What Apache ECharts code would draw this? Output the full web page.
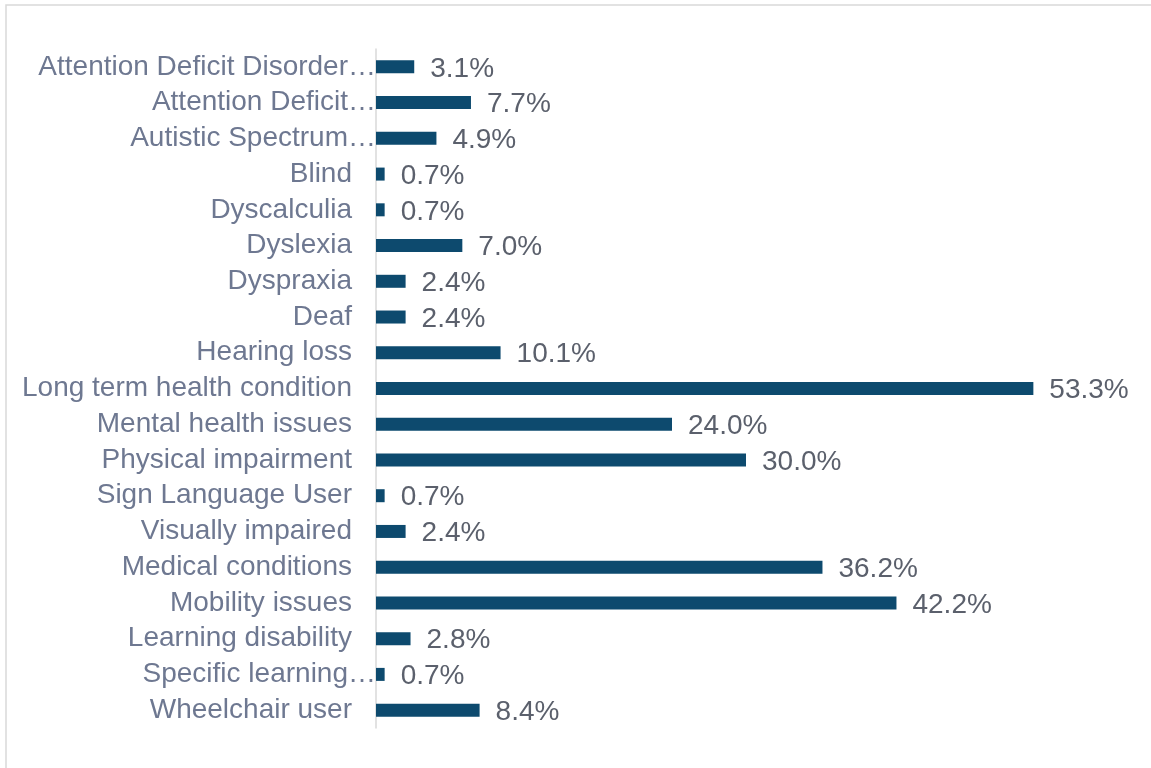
<!DOCTYPE html>
<html><head><meta charset="utf-8">
<script src="https://cdn.jsdelivr.net/npm/echarts@6/dist/echarts.min.js"></script>
<style>html,body{margin:0;padding:0;background:#fff;}#c{width:1151px;height:768px;}</style>
</head><body><div id="c"></div>
<script>
var categories = ["Attention Deficit Disorder\u2026","Attention Deficit\u2026","Autistic Spectrum\u2026","Blind","Dyscalculia","Dyslexia","Dyspraxia","Deaf","Hearing loss","Long term health condition","Mental health issues","Physical impairment","Sign Language User","Visually impaired","Medical conditions","Mobility issues","Learning disability","Specific learning\u2026","Wheelchair user"];
var values = [3.1,7.7,4.9,0.7,0.7,7.0,2.4,2.4,10.1,53.3,24.0,30.0,0.7,2.4,36.2,42.2,2.8,0.7,8.4];
var truncated = [true,true,true,false,false,false,false,false,false,false,false,false,false,false,false,false,false,true,false];

var chart = echarts.init(document.getElementById('c'));
chart.setOption({
  animation:false,
  graphic:[{type:'rect',shape:{x:6,y:5,width:1300,height:900},style:{fill:'none',stroke:'#d9d9d9',lineWidth:1.5},silent:true}],
  grid:{left:376,right:35,top:49,bottom:40,containLabel:false},
  xAxis:{type:'value',min:0,max:60,show:false},
  yAxis:{type:'category',inverse:true,
    data:categories.map(function(c,i){return truncated[i]?{value:c,textStyle:{padding:[0,-24,0,0]}}:c;}),
    axisLine:{show:true,lineStyle:{color:'#d9d9d9',width:1.5}},
    axisTick:{show:false},
    axisLabel:{interval:0,hideOverlap:false,margin:24,fontFamily:'Liberation Sans, Arial',fontSize:28,color:'#6e7891'}
  },
  series:[{type:'bar',data:values,barWidth:13,itemStyle:{color:'#0d4a6e'},
    label:{show:true,position:'right',distance:16,offset:[0,2],fontFamily:'Liberation Sans, Arial',fontSize:28,color:'#5b606c',
      formatter:function(p){return p.value.toFixed(1)+'%';}}}]
});
</script></body></html>
